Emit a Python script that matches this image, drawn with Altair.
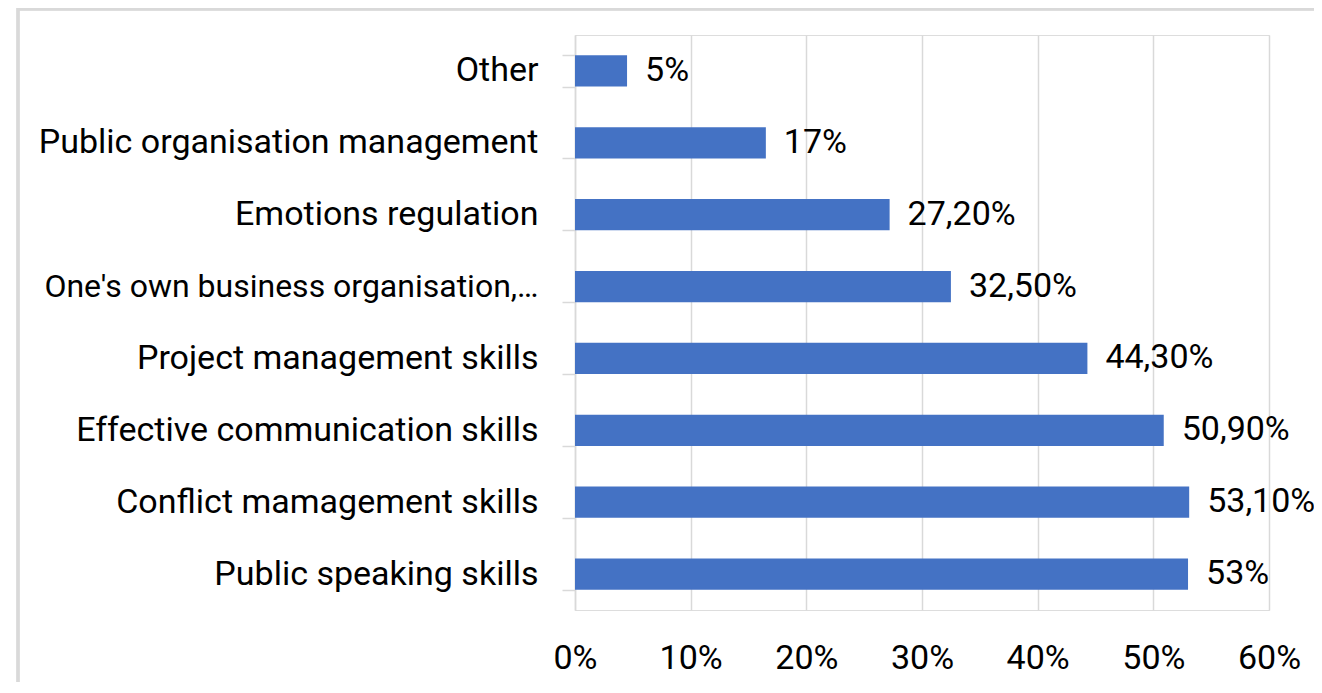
import altair as alt
import pandas as pd

categories = [
    "Other",
    "Public organisation management",
    "Emotions regulation",
    "One's own business organisation,…",
    "Project management skills",
    "Effective communication skills",
    "Conflict mamagement skills",
    "Public speaking skills",
]
values = [4.5, 16.5, 27.2, 32.5, 44.3, 50.9, 53.1, 53.0]
labels = ["5%", "17%", "27,20%", "32,50%", "44,30%", "50,90%", "53,10%", "53%"]
x_ticks = [0, 10, 20, 30, 40, 50, 60]

df = pd.DataFrame({"category": categories, "value": values, "label": labels})

FONT = "Roboto"
FS = 34
W, H = 694, 575
PAD_L, PAD_T, PAD_R, PAD_B = 567, 27, 45, 72

y_enc = alt.Y(
    "category:N",
    sort=categories,
    title=None,
    scale=alt.Scale(paddingInner=0.565, paddingOuter=0.2825),
    axis=alt.Axis(
        domainColor="#d9d9d9",
        domainWidth=1.5,
        tickColor="#d9d9d9",
        tickWidth=1.5,
        tickSize=13,
        tickBand="extent",
        labelFont=FONT,
        labelFontSize={
            "condition": {"test": "indexof(datum.label, 'One') == 0", "value": 32},
            "value": FS,
        },
        labelColor="#000000",
        labelPadding=24,
        labelLimit=600,
        grid=False,
    ),
)

x_enc = alt.X(
    "value:Q",
    title=None,
    scale=alt.Scale(domain=[0, 60], nice=False, zero=True),
    axis=alt.Axis(
        values=x_ticks,
        labelExpr="datum.value + '%'",
        labelFlush=False,
        domain=False,
        ticks=False,
        grid=True,
        gridColor="#d9d9d9",
        gridWidth=1.5,
        labelFont=FONT,
        labelFontSize=FS,
        labelColor="#000000",
        labelPadding=31,
    ),
)

bars = alt.Chart(df).mark_bar(color="#4472C4").encode(x=x_enc, y=y_enc)

text = alt.Chart(df).mark_text(
    align="left", baseline="middle", dx=18, font=FONT, fontSize=FS, color="#000000"
).encode(x="value:Q", y=alt.Y("category:N", sort=categories), text="label:N")

border = alt.Chart(df).mark_rect(
    fill=None, stroke="#d9d9d9", strokeWidth=2.5
).encode(
    x=alt.value(10 - PAD_L),
    x2=alt.value(W + 300),
    y=alt.value(-PAD_T + 1),
    y2=alt.value(H + 300),
)

chart = (
    alt.layer(border, bars, text)
    .properties(
        width=W,
        height=H,
        autosize=alt.AutoSizeParams(type="none"),
        padding={"left": PAD_L, "top": PAD_T, "right": PAD_R, "bottom": PAD_B},
    )
    .configure_view(stroke=None)
    .configure(background="white")
)

chart.save("out.html", embed_options={"renderer": "svg", "actions": False})
